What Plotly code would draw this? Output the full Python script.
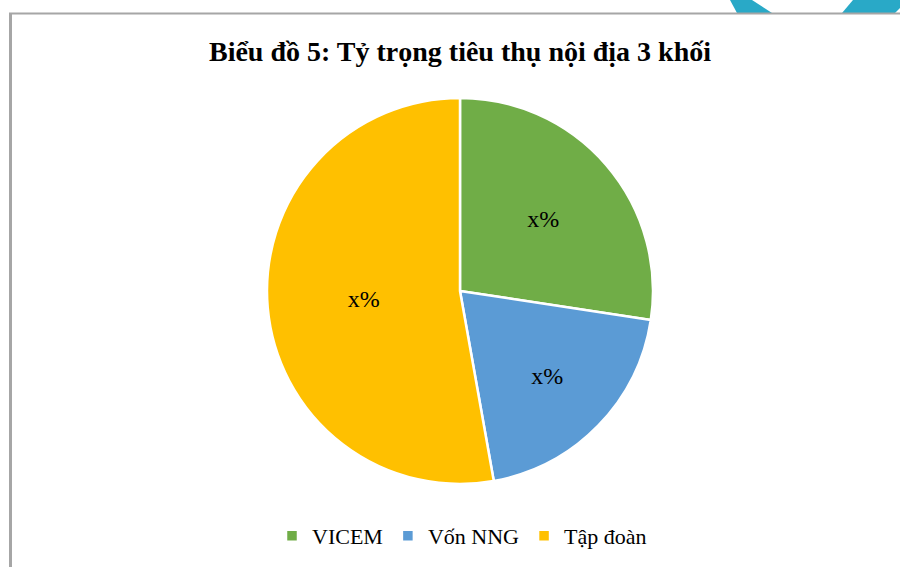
import plotly.graph_objects as go

categories = ["VICEM", "Vốn NNG", "Tập đoàn"]
values = [27.4, 19.8, 52.8]
text_labels = ["x%", "x%", "x%"]
colors = ["#70AD47", "#5B9BD5", "#FFC000"]

W, H = 900, 567
FONT = "Liberation Serif, serif"

def px(x):
    return x / W

def py(y):
    return 1 - y / H

fig = go.Figure(go.Pie(
    labels=categories,
    values=values,
    text=text_labels,
    texttemplate="%{text}",
    textposition="inside",
    insidetextorientation="horizontal",
    textfont=dict(family=FONT, size=24, color="#000000"),
    marker=dict(colors=colors, line=dict(color="#FFFFFF", width=2.5)),
    sort=False,
    direction="clockwise",
    rotation=0,
    hoverinfo="label+percent",
    domain=dict(x=[px(267), px(653)], y=[py(484), py(98)]),
))

shapes = [
    # teal decorations at top right
    dict(type="path", xref="paper", yref="paper",
         path=f"M {px(730)} {py(0)} L {px(752)} {py(0)} L {px(772)} {py(13)} L {px(737)} {py(13)} Z",
         fillcolor="#29A9C7", line=dict(width=0), layer="below"),
    dict(type="path", xref="paper", yref="paper",
         path=f"M {px(853)} {py(0)} L {px(900)} {py(0)} L {px(900)} {py(8)} L {px(895)} {py(13)} L {px(842)} {py(13)} Z",
         fillcolor="#29A9C7", line=dict(width=0), layer="below"),
    # frame lines
    dict(type="line", xref="paper", yref="paper",
         x0=px(9), x1=px(900), y0=py(13.5), y1=py(13.5),
         line=dict(color="#A6A6A6", width=2)),
    dict(type="line", xref="paper", yref="paper",
         x0=px(10.5), x1=px(10.5), y0=py(13), y1=py(567),
         line=dict(color="#A6A6A6", width=3)),
]

fig.update_layout(
    width=W, height=H,
    margin=dict(l=0, r=0, t=0, b=0),
    paper_bgcolor="#FFFFFF",
    plot_bgcolor="#FFFFFF",
    title=dict(text="<b>Biểu đồ 5: Tỷ trọng tiêu thụ nội địa 3 khối</b>",
               x=px(460), xanchor="center", y=py(51), yanchor="middle",
               font=dict(family=FONT, size=28, color="#000000")),
    legend=dict(orientation="h", x=px(462), xanchor="center",
                y=py(536), yanchor="middle",
                font=dict(family=FONT, size=22, color="#000000"),
                itemwidth=30, traceorder="normal"),
    shapes=shapes,
    showlegend=True,
)

fig.write_html(
    "out.html",
    config={"displayModeBar": False},
    post_script="document.body.style.margin='0';document.body.style.padding='0';",
)
